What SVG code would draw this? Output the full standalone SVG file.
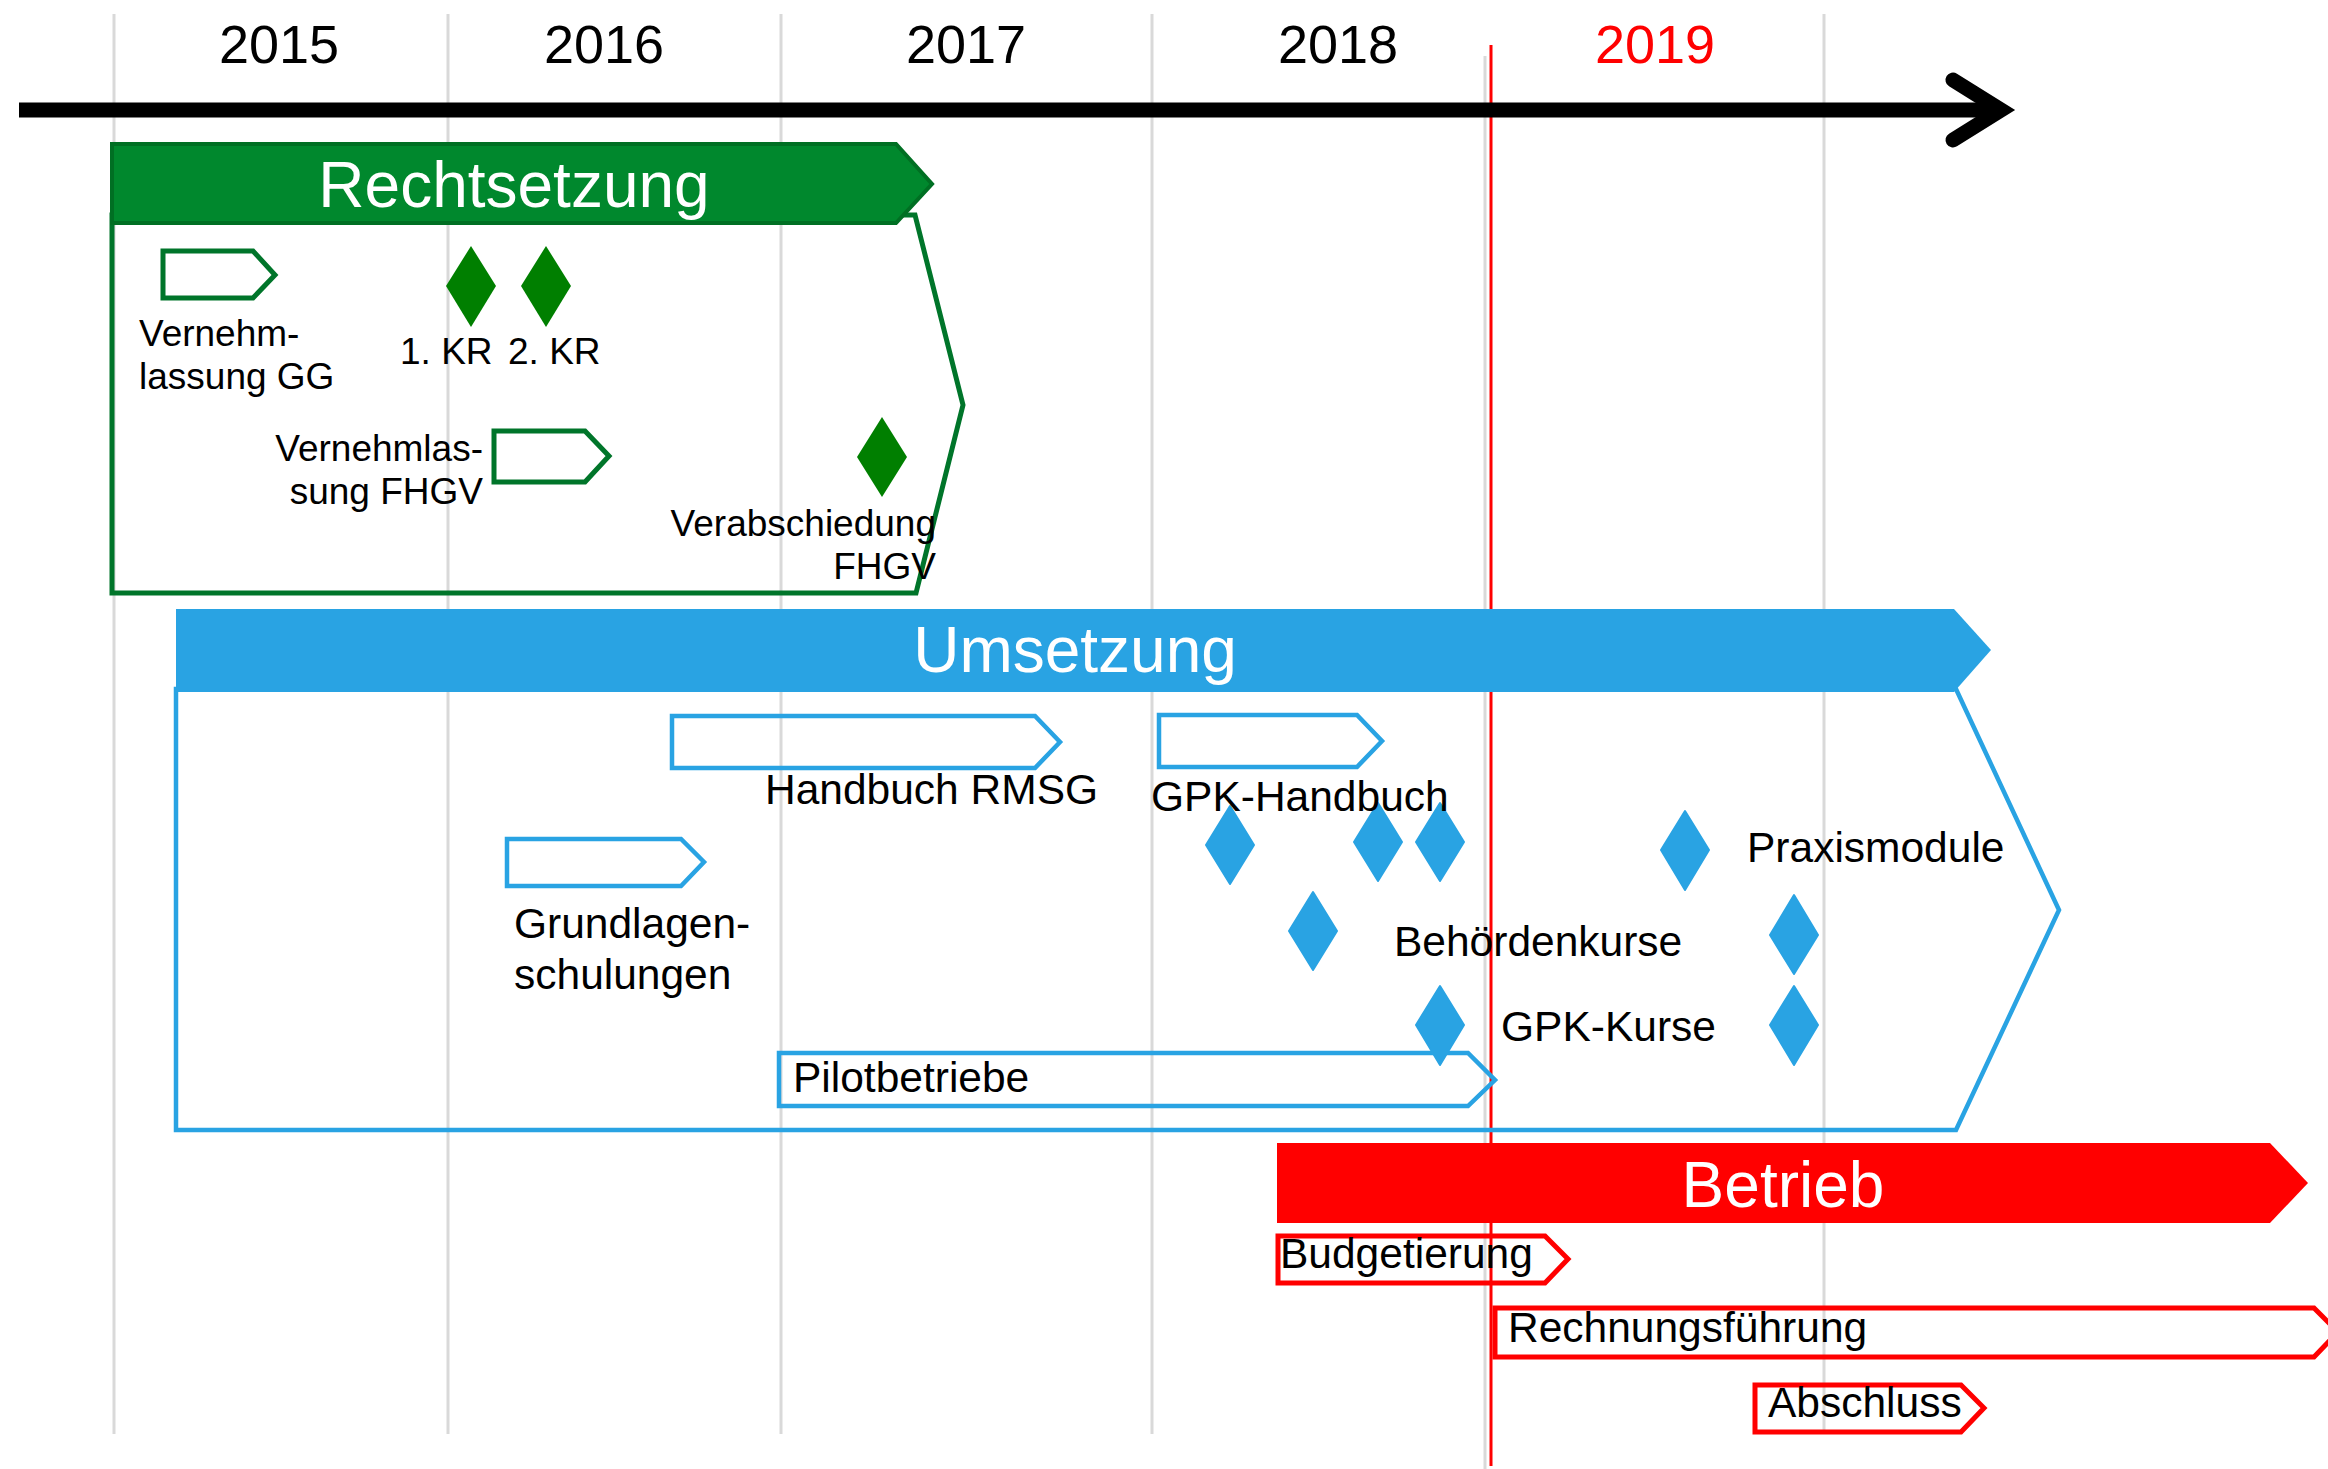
<svg xmlns="http://www.w3.org/2000/svg" width="2328" height="1469" viewBox="0 0 2328 1469">
<style>
text{font-family:"Liberation Sans",Arial,sans-serif;}
.grid{stroke:#d9d9d9;stroke-width:3;fill:none;}
.yr{font-size:54px;fill:#000;text-anchor:middle;}
.hdr{font-size:64px;fill:#fff;text-anchor:middle;}
.gt{font-size:37px;fill:#000;}
.bt{font-size:42.5px;fill:#000;}
.gbox{fill:none;stroke:#00752a;stroke-width:5;stroke-linejoin:miter;}
.bbox{fill:none;stroke:#29a3e3;stroke-width:4.5;}
.rbox{fill:none;stroke:#ff0000;stroke-width:5;}
.gd{fill:#007f00;}
.bd{fill:#29a3e3;stroke:#29a3e3;stroke-width:2;stroke-linejoin:round;}
</style>
<rect width="2328" height="1469" fill="#fff"/>
<g id="grid">
<line class="grid" x1="114" y1="14" x2="114" y2="1434"/>
<line class="grid" x1="448" y1="14" x2="448" y2="1434"/>
<line class="grid" x1="781" y1="14" x2="781" y2="1434"/>
<line class="grid" x1="1152" y1="14" x2="1152" y2="1434"/>
<line class="grid" x1="1824" y1="14" x2="1824" y2="1434"/>
<line class="grid" x1="1485" y1="56" x2="1485" y2="1469"/>
<line x1="1491" y1="45" x2="1491" y2="1466" stroke="#ff0000" stroke-width="3"/>
</g>
<g id="years">
<text class="yr" x="279" y="63">2015</text>
<text class="yr" x="604" y="63">2016</text>
<text class="yr" x="966" y="63">2017</text>
<text class="yr" x="1338" y="63">2018</text>
<text class="yr" x="1655" y="63" style="fill:#ff0000">2019</text>
</g>
<g id="connectors">
<line x1="19" y1="110" x2="1995" y2="110" stroke="#000" stroke-width="15"/>
<polyline points="1953,80 2001,110 1953,140" fill="none" stroke="#000" stroke-width="15" stroke-linecap="round" stroke-linejoin="miter"/>
</g>
<g id="rechtsetzung">
<polygon class="gbox" points="112,215 915,215 963,405 916,593 112,593"/>
<polygon points="112,144 896,144 932,184 896,223 112,223" fill="#00882d" stroke="#006f23" stroke-width="4"/>
<text class="hdr" x="514" y="207">Rechtsetzung</text>
</g>
<g id="vernehmlassung-gg">
<polygon class="gbox" points="163,251 253,251 275,275 253,298 163,298"/>
<text class="gt" x="139" y="346">Vernehm-</text>
<text class="gt" x="139" y="389">lassung GG</text>
</g>
<g id="kr1">
<polygon class="gd" points="471,246 496,286 471,327 446,286"/>
<text class="gt" x="400" y="364">1. KR</text>
</g>
<g id="kr2">
<polygon class="gd" points="546,246 571,286 546,327 521,286"/>
<text class="gt" x="508" y="364">2. KR</text>
</g>
<g id="vernehmlassung-fhgv">
<polygon class="gbox" points="494,431 585,431 609,456 585,482 494,482"/>
<text class="gt" x="483" y="461" text-anchor="end">Vernehmlas-</text>
<text class="gt" x="483" y="504" text-anchor="end">sung FHGV</text>
</g>
<g id="verabschiedung">
<polygon class="gd" points="882,417 907,457 882,497 857,457"/>
<text class="gt" x="936" y="536" text-anchor="end">Verabschiedung</text>
<text class="gt" x="936" y="579" text-anchor="end">FHGV</text>
</g>
<g id="umsetzung">
<polygon class="bbox" points="176,689 1956,689 2059,910 1956,1130 176,1130"/>
<polygon points="176,609 1954,609 1991,650 1954,692 176,692" fill="#29a3e3"/>
<text class="hdr" x="1075" y="672">Umsetzung</text>
</g>
<g id="handbuch-rmsg">
<polygon class="bbox" points="672,716 1035,716 1060,742 1035,768 672,768"/>
</g>
<g id="gpk-handbuch">
<polygon class="bbox" points="1159,715 1357,715 1382,741 1357,767 1159,767"/>
</g>
<g id="grundlagenschulungen">
<polygon class="bbox" points="507,839 681,839 704,862 681,886 507,886"/>
</g>
<g id="pilotbetriebe">
<polygon class="bbox" points="779,1053 1468,1053 1495,1080 1468,1106 779,1106"/>
</g>
<g id="diamonds-umsetzung">
<polygon class="bd" points="1230,806 1254,845 1230,884 1206,845"/>
<polygon class="bd" points="1378,803 1402,842 1378,881 1354,842"/>
<polygon class="bd" points="1440,803 1464,842 1440,881 1416,842"/>
<polygon class="bd" points="1685,811 1709,850 1685,890 1661,850"/>
<polygon class="bd" points="1313,892 1337,931 1313,970 1289,931"/>
<polygon class="bd" points="1794,895 1818,935 1794,974 1770,935"/>
<polygon class="bd" points="1440,986 1464,1025 1440,1065 1416,1025"/>
<polygon class="bd" points="1794,986 1818,1025 1794,1065 1770,1025"/>
</g>
<g id="umsetzung-labels">
<text class="bt" x="765" y="804">Handbuch RMSG</text>
<text class="bt" x="1151" y="811">GPK-Handbuch</text>
<text class="bt" x="514" y="938">Grundlagen-</text>
<text class="bt" x="514" y="989">schulungen</text>
<text class="bt" x="793" y="1092">Pilotbetriebe</text>
<text class="bt" x="1747" y="862">Praxismodule</text>
<text class="bt" x="1394" y="956">Behördenkurse</text>
<text class="bt" x="1501" y="1041">GPK-Kurse</text>
</g>
<g id="betrieb">
<polygon points="1277,1143 2270,1143 2308,1183 2270,1223 1277,1223" fill="#ff0000"/>
<text class="hdr" x="1783" y="1207">Betrieb</text>
</g>
<g id="budgetierung">
<polygon class="rbox" points="1278,1236 1545,1236 1568,1259 1545,1283 1278,1283"/>
<text class="bt" x="1280" y="1268">Budgetierung</text>
</g>
<g id="rechnungsfuehrung">
<polygon class="rbox" points="1495,1308 2314,1308 2338,1332 2314,1357 1495,1357"/>
<text class="bt" x="1508" y="1342">Rechnungsführung</text>
</g>
<g id="abschluss">
<polygon class="rbox" points="1755,1385 1961,1385 1984,1408 1961,1432 1755,1432"/>
<text class="bt" x="1768" y="1417">Abschluss</text>
</g>
</svg>
